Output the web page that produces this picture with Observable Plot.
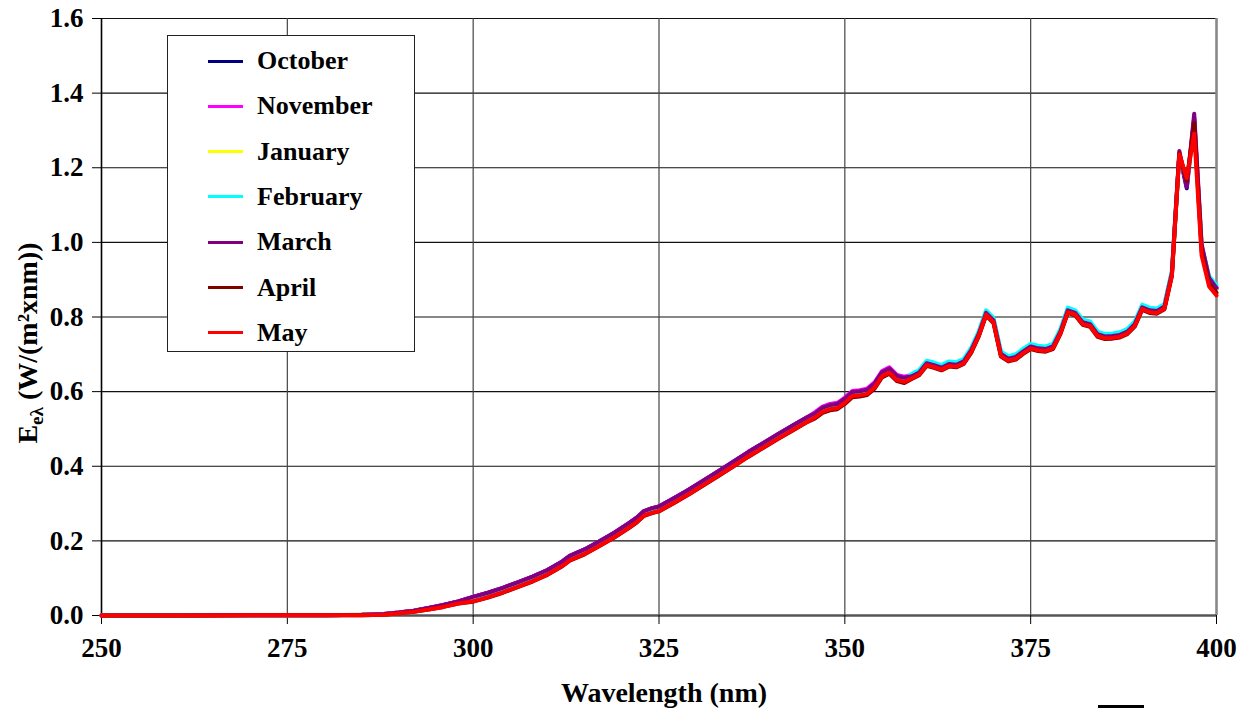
<!DOCTYPE html>
<html><head><meta charset="utf-8">
<script src="https://cdn.jsdelivr.net/npm/d3@7"></script>
<script src="https://cdn.jsdelivr.net/npm/@observablehq/plot@0.6"></script>
<style>
body{margin:0;background:#fff;}
#wrap{position:relative;width:1246px;height:708px;font-family:"Liberation Serif","Times New Roman",serif;font-weight:bold;}
#legend{position:absolute;left:167px;top:35px;width:246px;height:315px;border:1px solid #222;background:#fff;}
.row{position:absolute;left:0;height:30px;display:flex;align-items:center;font-size:26px;color:#000;}
.sw{width:35px;height:3px;margin-left:40px;margin-right:14px;}
#frag{position:absolute;left:1098px;top:705px;width:46px;height:3px;background:#000;}
</style></head>
<body><div id="wrap"><div id="legend"></div><div id="frag"></div></div>
<script>
const wavelengths = [250,255,260,265,270,275,280,285,288,290,292,294,296,298,300,302,304,306,308,310,312,313,315,317,319,321,322,323,324,325,327,329,331,333,335,337,339,341,343,345,346,347,348,349,350,351,352,353,354,355,356,357,358,359,360,361,362,363,364,365,366,367,368,369,370,371,372,373,374,375,376,377,378,379,380,381,382,383,384,385,386,387,388,389,390,391,392,393,394,395,396,397,398,399,400];

const october = [0.000,0.000,0.000,0.001,0.001,0.001,0.001,0.002,0.004,
0.008,0.013,0.020,0.028,0.038,0.050,
0.061,0.074,0.089,0.104,0.122,
0.145,0.160,0.177,0.199,0.222,0.248,
0.262,0.280,0.287,0.292,
0.314,0.337,0.362,0.387,0.412,0.438,0.462,0.486,0.509,0.532,
0.540,0.555,0.562,0.565,0.579,0.597,0.599,0.603,0.620,0.650,0.660,0.640,0.635,
0.637,0.647,0.672,0.667,0.660,0.670,0.668,0.677,0.707,0.750,0.807,0.787,0.697,0.684,0.689,0.704,0.717,0.712,0.710,0.717,0.757,0.814,0.807,0.782,0.777,0.750,0.744,0.745,0.748,0.757,0.777,0.822,0.814,0.812,0.824,
0.915,1.235,1.145,1.330,0.985,0.900,0.875];

const november = [0.000,0.000,0.000,0.001,0.001,0.001,0.001,0.002,0.004,
0.008,0.013,0.020,0.028,0.038,0.050,
0.061,0.074,0.089,0.104,0.122,
0.145,0.160,0.177,0.199,0.222,0.248,
0.262,0.280,0.287,0.292,
0.314,0.337,0.362,0.387,0.412,0.438,0.462,0.486,0.509,0.532,
0.545,0.560,0.567,0.570,0.584,0.602,0.604,0.608,0.625,0.655,0.665,0.645,0.640,
0.645,0.655,0.680,0.675,0.668,0.678,0.676,0.685,0.715,0.758,0.815,0.795,0.705,0.692,0.697,0.712,0.725,0.720,0.718,0.725,0.765,0.822,0.815,0.790,0.785,0.758,0.752,0.753,0.756,0.765,0.785,0.830,0.822,0.820,0.832,
0.920,1.240,1.150,1.335,0.990,0.905,0.880];

const january = [0.000,0.000,0.000,0.001,0.001,0.001,0.001,0.002,0.003,
0.007,0.011,0.017,0.025,0.034,0.042,
0.053,0.066,0.081,0.096,0.114,
0.137,0.152,0.169,0.191,0.214,0.240,
0.254,0.272,0.279,0.284,
0.306,0.329,0.354,0.379,0.404,0.430,0.454,0.478,0.501,0.524,
0.535,0.550,0.557,0.560,0.574,0.592,0.594,0.598,0.615,0.645,0.655,0.635,0.630,
0.639,0.649,0.674,0.669,0.662,0.672,0.670,0.679,0.709,0.752,0.809,0.789,0.699,0.686,0.691,0.706,0.719,0.714,0.712,0.719,0.759,0.816,0.809,0.784,0.779,0.752,0.746,0.747,0.750,0.759,0.779,0.824,0.816,0.814,0.826,
0.918,1.235,1.160,1.315,0.985,0.900,0.875];

const february = [0.000,0.000,0.000,0.001,0.001,0.001,0.001,0.002,0.003,
0.007,0.012,0.018,0.026,0.035,0.044,
0.055,0.068,0.083,0.098,0.116,
0.139,0.154,0.171,0.193,0.216,0.242,
0.256,0.274,0.281,0.286,
0.308,0.331,0.356,0.381,0.406,0.432,0.456,0.480,0.503,0.526,
0.537,0.552,0.559,0.562,0.576,0.594,0.596,0.600,0.617,0.647,0.657,0.637,0.632,
0.648,0.658,0.683,0.678,0.671,0.681,0.679,0.688,0.718,0.761,0.818,0.798,0.708,0.695,0.700,0.715,0.728,0.723,0.721,0.728,0.768,0.825,0.818,0.793,0.788,0.761,0.755,0.756,0.759,0.768,0.788,0.833,0.825,0.823,0.835,
0.925,1.235,1.160,1.320,0.990,0.910,0.885];

const march = [0.000,0.000,0.000,0.001,0.001,0.001,0.001,0.002,0.004,
0.008,0.013,0.020,0.028,0.038,0.050,
0.061,0.074,0.089,0.104,0.122,
0.145,0.160,0.177,0.199,0.222,0.248,
0.262,0.280,0.287,0.292,
0.314,0.337,0.362,0.387,0.412,0.438,0.462,0.486,0.509,0.532,
0.542,0.557,0.564,0.567,0.581,0.599,0.601,0.605,0.622,0.652,0.662,0.642,0.637,
0.641,0.651,0.676,0.671,0.664,0.674,0.672,0.681,0.711,0.754,0.811,0.791,0.701,0.688,0.693,0.708,0.721,0.716,0.714,0.721,0.761,0.818,0.811,0.786,0.781,0.754,0.748,0.749,0.752,0.761,0.781,0.826,0.818,0.816,0.828,
0.918,1.245,1.148,1.345,0.995,0.905,0.878];

const april = [0.000,0.000,0.000,0.000,0.001,0.001,0.001,0.001,0.002,
0.006,0.010,0.016,0.023,0.032,0.037,
0.048,0.061,0.076,0.091,0.109,
0.132,0.147,0.164,0.186,0.209,0.235,
0.249,0.267,0.274,0.279,
0.301,0.324,0.349,0.374,0.399,0.425,0.449,0.473,0.496,0.519,
0.528,0.543,0.550,0.553,0.567,0.585,0.587,0.591,0.608,0.638,0.648,0.628,0.623,
0.634,0.644,0.669,0.664,0.657,0.667,0.665,0.674,0.704,0.747,0.804,0.784,0.694,0.681,0.686,0.701,0.714,0.709,0.707,0.714,0.754,0.811,0.804,0.779,0.774,0.747,0.741,0.742,0.745,0.754,0.774,0.819,0.811,0.809,0.821,
0.910,1.238,1.165,1.320,0.975,0.890,0.865];

const may = [0.000,0.000,0.000,0.000,0.001,0.001,0.001,0.001,0.002,
0.006,0.010,0.016,0.023,0.032,0.038,
0.049,0.062,0.077,0.092,0.110,
0.133,0.148,0.165,0.187,0.210,0.236,
0.250,0.268,0.275,0.280,
0.302,0.325,0.350,0.375,0.400,0.426,0.450,0.474,0.497,0.520,
0.531,0.546,0.553,0.556,0.570,0.588,0.590,0.594,0.611,0.641,0.651,0.631,0.626,
0.636,0.646,0.671,0.666,0.659,0.669,0.667,0.676,0.706,0.749,0.806,0.786,0.696,0.683,0.688,0.703,0.716,0.711,0.709,0.716,0.756,0.813,0.806,0.781,0.776,0.749,0.743,0.744,0.747,0.756,0.776,0.821,0.813,0.811,0.823,
0.912,1.236,1.172,1.292,0.965,0.882,0.858];

const months = ["October","November","January","February","March","April","May"];
const colors = ["#000080","#FF00FF","#FFFF00","#00FFFF","#800080","#800000","#FF0000"];
const seriesValues = [october, november, january, february, march, april, may];
const xTicks = [250,275,300,325,350,375,400];
const yTicks = [0,0.2,0.4,0.6,0.8,1.0,1.2,1.4,1.6];
const xTitle = "Wavelength (nm)";

const lineMarks = seriesValues.map((vals, i) =>
  Plot.line(wavelengths.map((w, j) => ({w, v: vals[j], m: months[i]})),
    {x: "w", y: "v", stroke: colors[i], strokeWidth: 4, strokeLinejoin: "round"}));

const chart = Plot.plot({
  width: 1246, height: 708,
  marginLeft: 101, marginRight: 30, marginTop: 18, marginBottom: 93,
  style: {fontFamily: '"Liberation Serif","Times New Roman",serif', fontSize: "27px", fontWeight: "bold", background: "#fff", color: "#000", overflow: "visible"},
  x: {domain: [250, 400]},
  y: {domain: [0, 1.6]},
  marks: [
    Plot.gridY(yTicks, {stroke: "#111", strokeOpacity: 1, strokeWidth: 1.2}),
    Plot.gridX(xTicks, {stroke: "#444", strokeOpacity: 1, strokeWidth: 1.2}),
    Plot.ruleX([250], {stroke: "#000", strokeWidth: 1.5}),
    Plot.ruleX([400], {stroke: "#888", strokeWidth: 2.5}),
    Plot.ruleY([0], {stroke: "#555", strokeWidth: 2.5}),
    Plot.axisX({ticks: xTicks, tickSize: 9, tickPadding: 13, label: null, tickFormat: d => String(d)}),
    Plot.axisY({ticks: yTicks, tickSize: 9, tickPadding: 9, label: null, tickFormat: d => d.toFixed(1)}),
    ...lineMarks
  ]
});

const wrap = document.getElementById("wrap");
wrap.insertBefore(chart, wrap.firstChild);

const svg = d3.select(chart);
svg.append("text")
  .attr("x", 664).attr("y", 702)
  .attr("text-anchor", "middle")
  .attr("font-size", 28).attr("font-weight", "bold")
  .attr("fill", "#000")
  .text(xTitle);

const yt = svg.append("text")
  .attr("transform", "translate(37,343) rotate(-90)")
  .attr("text-anchor", "middle")
  .attr("font-size", 28).attr("font-weight", "bold")
  .attr("fill", "#000");
yt.append("tspan").text("E");
yt.append("tspan").attr("dy", 6).attr("font-size", 19).text("eλ");
yt.append("tspan").attr("dy", -6).text(" (W/(m²xnm))");

const legend = document.getElementById("legend");
months.forEach((m, i) => {
  const row = document.createElement("div");
  row.className = "row";
  row.style.top = (10 + i * 45.3) + "px";
  const sw = document.createElement("div");
  sw.className = "sw";
  sw.style.background = colors[i];
  const lab = document.createElement("span");
  lab.textContent = m;
  row.appendChild(sw); row.appendChild(lab);
  legend.appendChild(row);
});
</script></body></html>
